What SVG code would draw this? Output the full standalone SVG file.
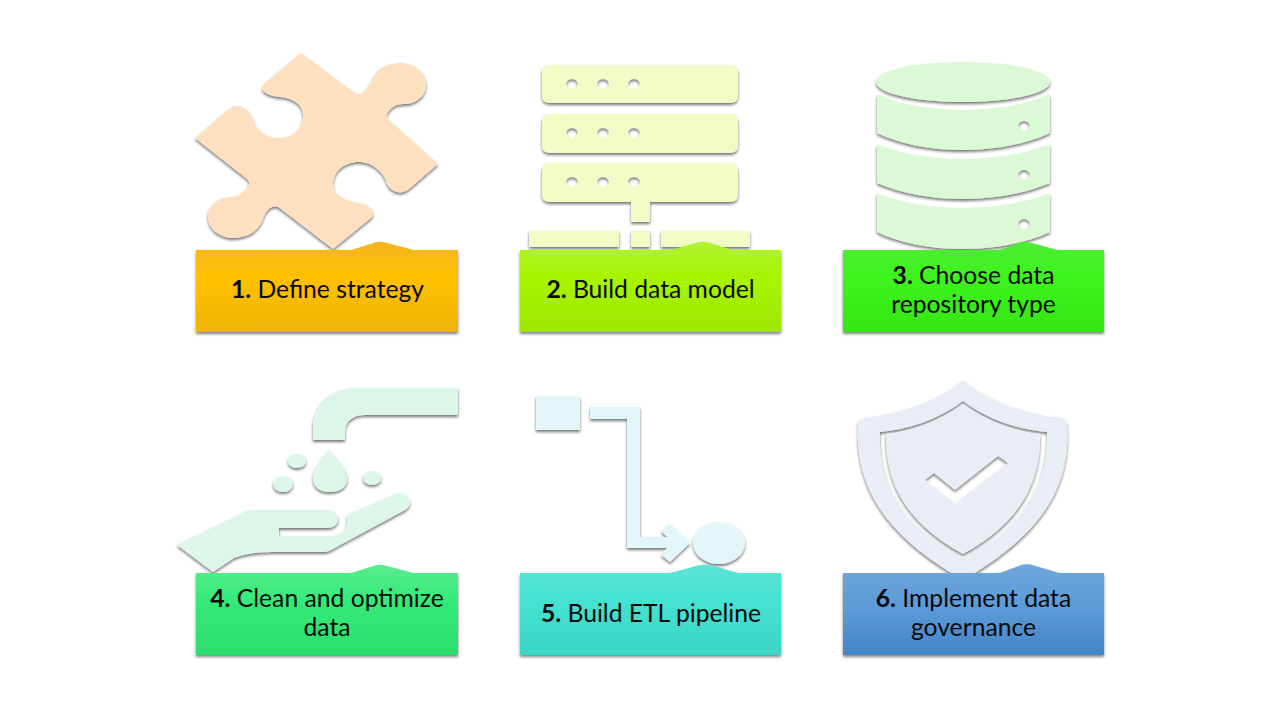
<svg xmlns="http://www.w3.org/2000/svg" width="1280" height="720" viewBox="0 0 1280 720">
<style>
.lbl{font-family:Lato,"Liberation Sans",sans-serif;font-size:24.7px;fill:#0a0a0a;text-anchor:middle}
.lbl tspan.n{font-weight:700}
.ico{filter:url(#sh);fill-rule:evenodd}
.box{filter:url(#bs)}
</style>
<defs>
<filter id="sh" x="-10%" y="-10%" width="120%" height="120%"><feDropShadow dx="0" dy="2" stdDeviation="1.4" flood-color="#000" flood-opacity=".55"/></filter>
<filter id="bs" x="-5%" y="-10%" width="110%" height="125%"><feDropShadow dx="0" dy="2" stdDeviation="1.5" flood-color="#000" flood-opacity=".5"/></filter>
<linearGradient id="g1" x1="0" y1="0" x2="0" y2="1"><stop offset="0" stop-color="#f3b520"/><stop offset=".4" stop-color="#ffc000"/><stop offset="1" stop-color="#eeb408"/></linearGradient>
<linearGradient id="g2" x1="0" y1="0" x2="0" y2="1"><stop offset="0" stop-color="#b0f232"/><stop offset=".4" stop-color="#a8f400"/><stop offset="1" stop-color="#9ee600"/></linearGradient>
<linearGradient id="g3" x1="0" y1="0" x2="0" y2="1"><stop offset="0" stop-color="#4cec36"/><stop offset=".4" stop-color="#3df41c"/><stop offset="1" stop-color="#35e615"/></linearGradient>
<linearGradient id="g4" x1="0" y1="0" x2="0" y2="1"><stop offset="0" stop-color="#5aec90"/><stop offset=".4" stop-color="#34ea78"/><stop offset="1" stop-color="#2cde6e"/></linearGradient>
<linearGradient id="g5" x1="0" y1="0" x2="0" y2="1"><stop offset="0" stop-color="#5ce4d6"/><stop offset=".4" stop-color="#45e2d2"/><stop offset="1" stop-color="#3cd4c4"/></linearGradient>
<linearGradient id="g6" x1="0" y1="0" x2="0" y2="1"><stop offset="0" stop-color="#6ea6de"/><stop offset=".5" stop-color="#5b9ad8"/><stop offset="1" stop-color="#4484c6"/></linearGradient>
</defs>
<rect width="1280" height="720" fill="#fff"/>

<g id="step1">
<path class="ico" fill="#fde0c0" d="M301 53 L352 91 C357 95 363 95 366 90 C369 85 371 83 373 79 C377 68 388 63 400 63 C415 63 426 73 426 85 C426 97 414 105 403 104 C396 104 390 108 387 114 C386 117 387 119 390 121 L438 164 L409 189 C402 195 392 193 387 184 C384 172 372 162 359 162 C344 162 333 172 333 184 C333 194 344 201 358 203 C370 204 376 212 371 218 L333 249 L281 209 C276 205 271 206 267 211 C264 214 264 218 260 225 C255 233 245 238 233 238 C219 238 208 228 208 217 C208 206 218 197 231 197 C238 197 244 192 248 187 C250 184 250 182 247 179 L195 138 L228 110 C236 103 248 106 253 120 C257 131 266 138 279 138 C293 138 304 128 303 115 C303 104 292 98 280 97 C268 96 258 91 264 84 Z"/>
<path class="box" fill="url(#g1)" d="M196 250 H348 Q352 250 356 248.500 L375 242.500 Q380 241 385 242.500 L408 248.500 Q412 250 416 250 H458 V332 H196 Z"/>
<text class="lbl" x="327.500" y="298"><tspan class="n">1.</tspan> Define strategy</text>
</g>

<g id="step2">
<path class="ico" fill="#f1fbc6" d="M550 65 H730 Q738 65 738 73 V95 Q738 103 730 103 H550 Q542 103 542 95 V73 Q542 65 550 65 Z M566 84 a6 5 0 1 0 12 0 a6 5 0 1 0 -12 0 Z M597 84 a6 5 0 1 0 12 0 a6 5 0 1 0 -12 0 Z M628 84 a6 5 0 1 0 12 0 a6 5 0 1 0 -12 0 Z
M550 114 H730 Q738 114 738 122 V145 Q738 153 730 153 H550 Q542 153 542 145 V122 Q542 114 550 114 Z M566 133 a6 5 0 1 0 12 0 a6 5 0 1 0 -12 0 Z M597 133 a6 5 0 1 0 12 0 a6 5 0 1 0 -12 0 Z M628 133 a6 5 0 1 0 12 0 a6 5 0 1 0 -12 0 Z
M550 163 H730 Q738 163 738 171 V194 Q738 202 730 202 H650 V222 H631 V202 H550 Q542 202 542 194 V171 Q542 163 550 163 Z M566 182 a6 5 0 1 0 12 0 a6 5 0 1 0 -12 0 Z M597 182 a6 5 0 1 0 12 0 a6 5 0 1 0 -12 0 Z M628 182 a6 5 0 1 0 12 0 a6 5 0 1 0 -12 0 Z
M529 231 H619 V247 H529 Z M631 231 H650 V247 H631 Z M661 231 H750 V247 H661 Z"/>
<path class="box" fill="url(#g2)" d="M520 250 H668 Q672 250 676 248.500 L698 242.500 Q703 241 708 242.500 L728 248.500 Q732 250 736 250 H781 V332 H520 Z"/>
<text class="lbl" x="650.500" y="298"><tspan class="n">2.</tspan> Build data model</text>
</g>

<g id="step3">
<path class="ico" fill="#dcf9d6" d="M876 82 A87 20 0 1 0 1050 82 A87 20 0 1 0 876 82 Z
M877 96 Q877 94 879 95 C902 105 930 110 963 110 C996 110 1024 105 1048 95 Q1050 94 1050 96 V133 C1026 144 996 150 963 150 C930 150 900 144 877 133 Z M1018 126 a6 5 0 1 0 12 0 a6 5 0 1 0 -12 0 Z
M877 146 Q877 144 879 145 C902 154 930 159 963 159 C996 159 1024 154 1048 145 Q1050 144 1050 146 V183 C1026 193 996 199 963 199 C930 199 900 193 877 183 Z M1018 175 a6 5 0 1 0 12 0 a6 5 0 1 0 -12 0 Z
M877 195 Q877 193 879 194 C902 203 930 208 963 208 C996 208 1024 203 1048 194 Q1050 193 1050 195 V232 C1026 243 996 249 963 249 C930 249 900 243 877 232 Z M1018 224 a6 5 0 1 0 12 0 a6 5 0 1 0 -12 0 Z"/>
<path class="box" fill="url(#g3)" d="M843 250 H996 Q1000 250 1004 248.500 L1020 242.500 Q1025 241 1030 242.500 L1052 248.500 Q1056 250 1060 250 H1104 V332 H843 Z"/>
<text class="lbl" x="973.500" y="284"><tspan class="n">3.</tspan> Choose data</text>
<text class="lbl" x="973.500" y="313">repository type</text>
</g>

<g id="step4">
<path class="ico" fill="#dcf6e8" d="M458 388 V415 H365 C354 415 345 421 345 431 V440 H313 V427 C313 404 332 388 356 388 Z
M329 450 C336 459 347 468 347 479 C347 488 339 492 329 492 C319 492 313 486 313 478 C313 468 322 459 329 450 Z
M288 461 a9 7 0 1 0 18 0 a9 7 0 1 0 -18 0 Z M273 484 a10 8 0 1 0 20 0 a10 8 0 1 0 -20 0 Z M363 478 a9 7 0 1 0 18 0 a9 7 0 1 0 -18 0 Z
M177 545 L246 511 Q249 510 253 510 H327 C334 510 338 514 338 519 C338 525 333 528 327 528 H279 V536 H330 C341 536 347 530 347 522 C347 518 347 516 349 514 L396 494 C403 491 410 497 410 503 C410 506 408 508 405 510 L331 550 Q328 552 324 552 H272 C258 552 245 554 234 558 L213 572 Z"/>
<path class="box" fill="url(#g4)" d="M196 573 H348 Q352 573 356 571.500 L375 565.500 Q380 564 385 565.500 L408 571.500 Q412 573 416 573 H458 V655 H196 Z"/>
<text class="lbl" x="327" y="607"><tspan class="n">4.</tspan> Clean and optimize</text>
<text class="lbl" x="327" y="636">data</text>
</g>

<g id="step5">
<path class="ico" fill="#e2f5f8" d="M536 396 H580 V430 H536 Z M590 407 H640 V537 H667 L661 531 L670 524 L690 543 L670 562 L661 555 L667 548 H627 V419 H590 Z M693 543 a26 21 0 1 0 52 0 a26 21 0 1 0 -52 0 Z"/>
<path class="box" fill="url(#g5)" d="M520 573 H670 L698 565.500 Q705 564 712 565.500 L738 573 H781 V655 H520 Z"/>
<text class="lbl" x="651" y="622"><tspan class="n">5.</tspan> Build ETL pipeline</text>
</g>

<g id="step6">
<path class="ico" fill="#e8edf6" d="M963 380 C985 400 1025 414 1060 418 Q1067 419 1067 426 C1070 480 1050 530 963 580 C876 530 856 480 858 426 Q858 419 865 418 C900 414 941 400 963 380 Z
M963 401 C988 420 1020 430 1047 432 C1048 482 1028 525 963 558 C898 525 878 482 880 432 C906 430 938 420 963 401 Z
M963 404 C988 422 1015 432 1040 434 C1041 480 1022 522 963 554 C904 522 885 480 886 434 C911 432 938 422 963 404 Z
M925 480 L934 473 L955 490 L998 456 L1008 463 L955 504 Z"/>
<path class="box" fill="url(#g6)" d="M843 573 H996 Q1000 573 1004 571.500 L1020 565.500 Q1027 563 1034 565.500 L1056 572 Q1058 573 1060 573 H1104 V655 H843 Z"/>
<text class="lbl" x="973.500" y="607"><tspan class="n">6.</tspan> Implement data</text>
<text class="lbl" x="973.500" y="636">governance</text>
</g>
</svg>
